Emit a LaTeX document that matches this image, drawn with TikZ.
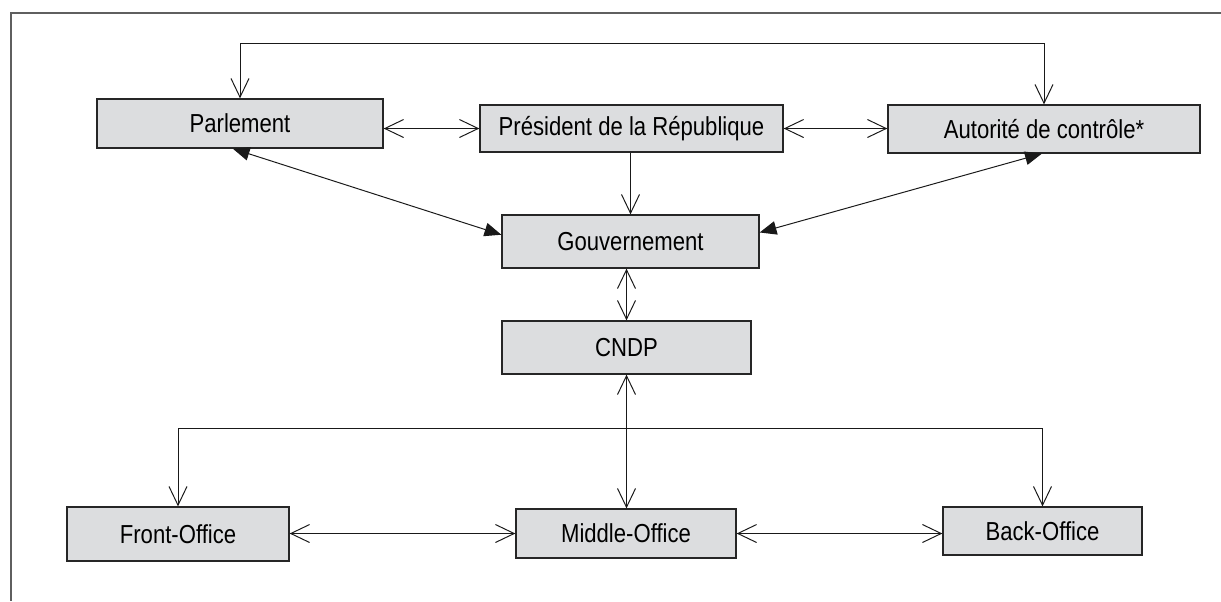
\documentclass[tikz,border=0pt]{standalone}
\usepackage{fontspec}
\setmainfont{Liberation Sans}[FakeStretch=0.85]
\usetikzlibrary{arrows.meta}
\definecolor{boxgray}{RGB}{220,221,223}
\definecolor{framegray}{RGB}{95,95,95}
\begin{document}
\begin{tikzpicture}[x=0.025cm, y=-0.025cm,
    >={Straight Barb[length=4.7mm,width=4.5mm]},
    box/.style={rectangle, draw=black!85, line width=0.9pt, fill=boxgray, inner sep=0pt,
        font=\fontsize{18.5}{21}\selectfont},
    conn/.style={line width=0.7pt, black!90},
    heavy/.style={conn, >={Triangle[length=4.2mm,width=3.4mm]}, <->}]

    \useasboundingbox (0,0) rectangle (1221,601);
    \draw[framegray, line width=1.1pt] (1221,13) -- (11,13) -- (11,601);

    \node (parl) at (240,123.5) [box, minimum width=7.15cm, minimum height=1.225cm] {Parlement};
    \node (pres) at (631.5,128.5) [box, minimum width=7.575cm, minimum height=1.175cm] {Président de la République};
    \node (auto) at (1044,129) [box, minimum width=7.8cm, minimum height=1.2cm] {Autorité de contrôle*};

    \node (gouv) at (630.5,241.5) [box, minimum width=6.425cm, minimum height=1.325cm] {Gouvernement};
    \node (cndp) at (626.5,347.5) [box, minimum width=6.225cm, minimum height=1.325cm] {CNDP};

    \node (front) at (178,534) [box, minimum width=5.55cm, minimum height=1.35cm] {Front-Office};
    \node (middle) at (626,533.5) [box, minimum width=5.5cm, minimum height=1.225cm] {Middle-Office};
    \node (back) at (1042.5,531) [box, minimum width=4.975cm, minimum height=1.2cm] {Back-Office};

    \coordinate (top) at (0,43);
    \coordinate (split) at (cndp.south |- 0,428);

    % top row
    \draw[conn, <->] (parl.north) -- (parl.north |- top) -| (auto.north);
    \draw[conn, <->] (parl.east |- pres.west) -- (pres.west);
    \draw[conn, <->] (pres.east) -- (auto.west |- pres.east);

    \draw[conn, ->] (pres.south -| gouv.north) -- (gouv.north);
    \draw[heavy] (parl.254) -- (gouv.177);
    \draw[heavy] (auto.265) -- (gouv.4);

    \draw[conn, <->] (gouv.south -| cndp.north) -- (cndp.north);

    % offices
    \draw[conn, <->] (cndp.south) -- (cndp.south |- middle.north);
    \draw[conn, ->] (split) -| (front.north);
    \draw[conn, ->] (split) -| (back.north);

    \draw[conn, <->] (front.east |- middle.west) -- (middle.west);
    \draw[conn, <->] (middle.east) -- (back.west |- middle.east);

\end{tikzpicture}
\end{document}
